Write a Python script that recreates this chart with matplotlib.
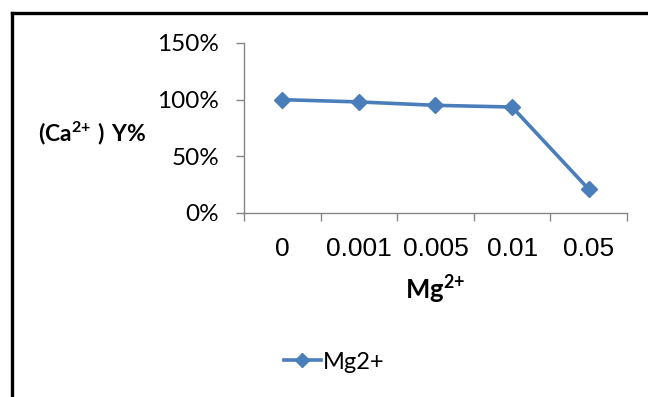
import matplotlib.pyplot as plt
from matplotlib.lines import Line2D

# data
categories = ['0', '0.001', '0.005', '0.01', '0.05']
y_values = [1.00, 0.98, 0.95, 0.935, 0.21]
y_ticks = [0, 0.5, 1.0, 1.5]
y_tick_labels = ['0%', '50%', '100%', '150%']
series_name = 'Mg2+'

blue = '#4A7EBB'
grey = '#868686'

plt.rcParams['mathtext.fontset'] = 'custom'
plt.rcParams['mathtext.rm'] = 'Lato'
plt.rcParams['mathtext.bf'] = 'Lato:bold'

fig = plt.figure(figsize=(6.48, 3.97), dpi=100)
ax = fig.add_axes([0.3765, 0.4635, 0.5911, 0.4282])

x = list(range(len(categories)))
ax.plot(x, y_values, color=blue, lw=2.6, marker='D', ms=8.5,
        markeredgecolor=blue, label=series_name)

ax.set_xlim(-0.5, len(categories) - 0.5)
ax.set_ylim(0, 1.5)

ax.set_yticks(y_ticks)
ax.set_yticklabels(y_tick_labels, fontfamily='Lato', fontsize=17.5)
ax.tick_params(axis='y', direction='out', length=6, width=1, color=grey, pad=12)

# category labels between boundary tick marks
ax.set_xticks(x)
ax.set_xticklabels(categories, fontfamily='Liberation Sans', fontsize=19)
ax.tick_params(axis='x', which='major', length=0, pad=17)
ax.set_xticks([i - 0.5 for i in range(len(categories) + 1)], minor=True)
ax.tick_params(axis='x', which='minor', direction='out', length=6, width=1, color=grey)

for s in ['top', 'right']:
    ax.spines[s].set_visible(False)
for s in ['left', 'bottom']:
    ax.spines[s].set_color(grey)
    ax.spines[s].set_linewidth(1)

ax.set_xlabel(r'$\mathbf{Mg^{2{+}}}$', fontsize=18.5, labelpad=9)
fig.text(0.058, 0.665, r'$\mathbf{(Ca^{2{+}}\ )\ Y\%}$', fontsize=16.5,
         va='center', ha='left')

handle = Line2D([], [], color=blue, lw=2.6, marker='D', ms=7.5, markeredgecolor=blue)
fig.legend([handle], [series_name], loc='center left', bbox_to_anchor=(0.42, 0.088),
           frameon=False, handlelength=1.55, handletextpad=0.1, borderpad=0,
           prop={'family': 'Lato', 'size': 17})

# frame around the chart (left and top edges visible)
fig.add_artist(Line2D([0.0185, 0.0185], [0.0, 0.967], color='black', lw=2.4,
                      transform=fig.transFigure))
fig.add_artist(Line2D([0.0185, 1.0], [0.967, 0.967], color='black', lw=2.4,
                      transform=fig.transFigure))

fig.savefig('out.png', dpi=100)
